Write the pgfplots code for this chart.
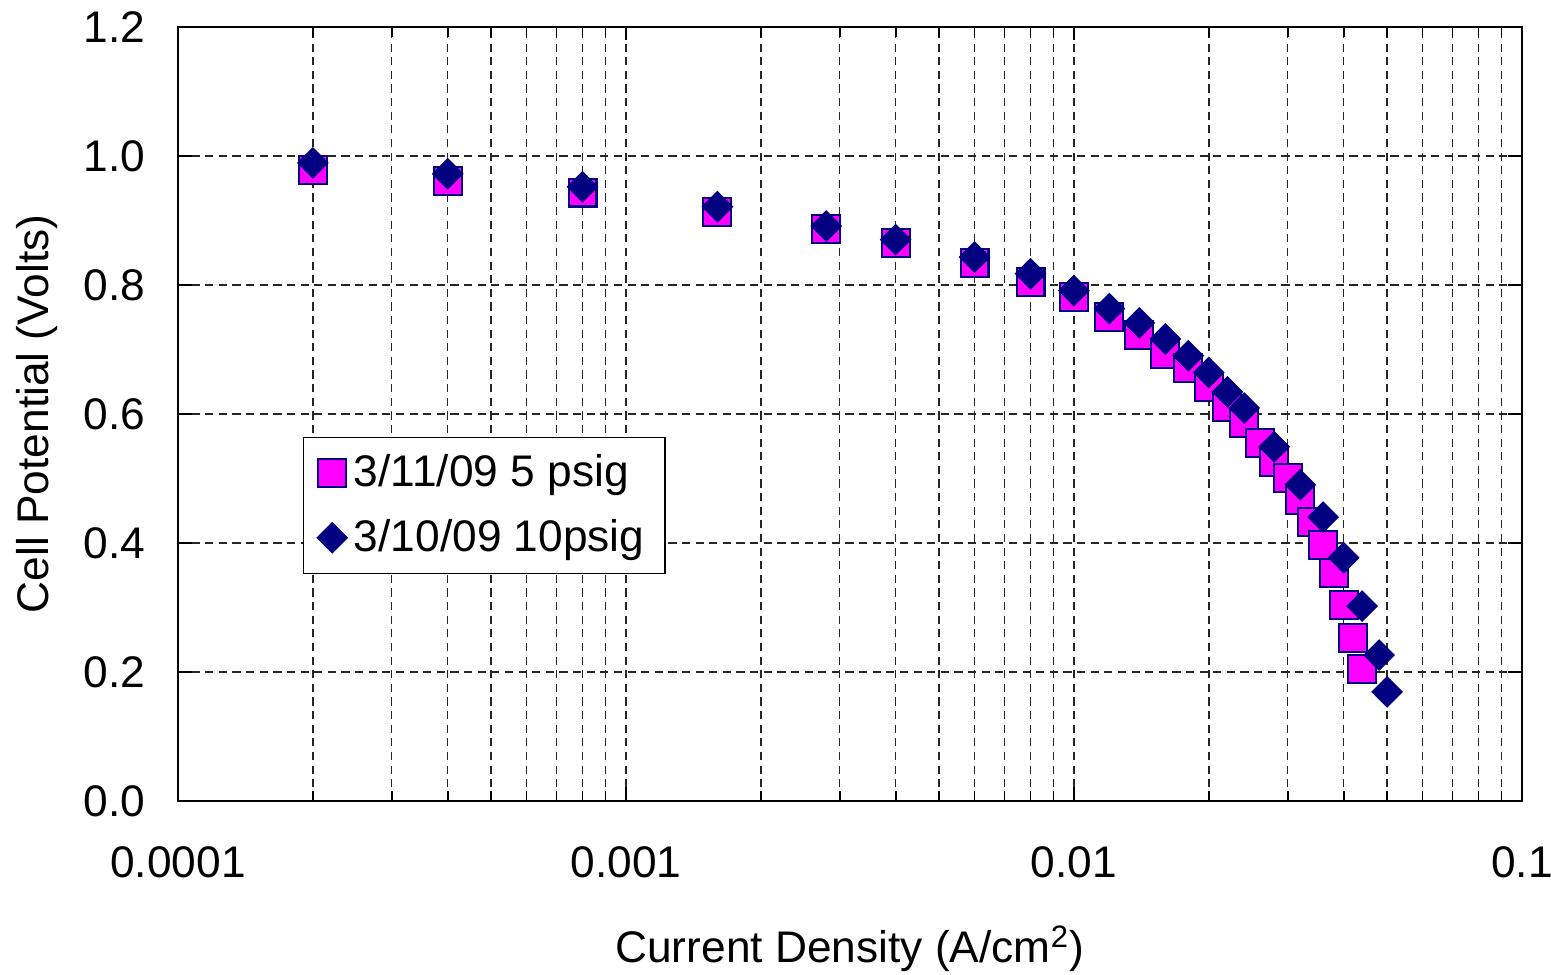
\documentclass[border=0pt]{standalone}
\usepackage{pgfplots}
\pgfplotsset{compat=1.18}
\usepackage{fontspec}
\setmainfont{Liberation Sans}
\definecolor{navyc}{RGB}{0,0,128}
\definecolor{magc}{RGB}{255,0,255}
\begin{document}
\begin{tikzpicture}
\begin{axis}[
  at={(0,0)}, anchor=south west,
  scale only axis,
  width=13.87cm, height=7.99cm,
  xmode=log,
  xmin=0.0001, xmax=0.1,
  ymin=0, ymax=1.2,
  ytick={0,0.2,0.4,0.6,0.8,1.0,1.2},
  xtick={0.0001,0.001,0.01,0.1},
  xticklabels={0.0001,0.001,0.01,0.1},
  yticklabel style={/pgf/number format/fixed,/pgf/number format/fixed zerofill,/pgf/number format/precision=1,/pgf/number format/assume math mode=true},
  tick label style={font=\fontsize{13}{15}\selectfont},
  label style={font=\fontsize{13}{15}\selectfont},
  xticklabel style={yshift=-10pt},
  yticklabel style={xshift=-6pt},
  xlabel={Current Density (A/cm\textsuperscript{2})},
  ylabel={Cell Potential (Volts)},
  xlabel style={yshift=-7pt},
  ylabel style={yshift=1pt},
  axis line style={line width=0.7pt},
  grid=both,
  major grid style={dash pattern=on 2.4pt off 1.6pt, black!85, line width=0.45pt},
  minor grid style={dash pattern=on 2.4pt off 1.6pt, black!85, line width=0.45pt},
  ymajorgrids=true, yminorgrids=false, xminorgrids=true,
  tick style={black, line width=0.5pt},
  minor tick length=3pt, major tick length=4pt,
  legend style={at={(0.093,0.470)}, anchor=north west, draw=black, line width=0.4pt,
     font=\fontsize{13}{15}\selectfont, inner xsep=4pt, inner ysep=3pt, row sep=4pt},
  legend cell align=left,
]
\addplot[only marks, mark=square*, mark size=4.1pt, mark options={fill=magc, draw=navyc, line width=0.6pt}]
coordinates {
(0.0002,0.978) (0.0004,0.961) (0.0008,0.943) (0.0016,0.913) (0.0028,0.887)
(0.004,0.865) (0.006,0.834) (0.008,0.805) (0.01,0.781) (0.012,0.750)
(0.014,0.722) (0.016,0.693) (0.018,0.671) (0.020,0.642) (0.022,0.611)
(0.024,0.586) (0.026,0.555) (0.028,0.526) (0.030,0.501) (0.032,0.467)
(0.034,0.433) (0.036,0.397) (0.038,0.353) (0.040,0.304) (0.042,0.253)
(0.044,0.205)
};
\addlegendentry{3/11/09 5 psig}
\addplot[only marks, mark=square*, mark size=3.1pt, mark options={rotate=45, fill=navyc, draw=navyc, line width=0.4pt}]
coordinates {
(0.0002,0.989) (0.0004,0.972) (0.0008,0.952) (0.0016,0.921) (0.0028,0.891)
(0.004,0.870) (0.006,0.843) (0.008,0.817) (0.01,0.791) (0.012,0.763)
(0.014,0.741) (0.016,0.716) (0.018,0.690) (0.020,0.664) (0.022,0.634)
(0.024,0.609) (0.028,0.549) (0.032,0.490) (0.036,0.440) (0.040,0.377)
(0.044,0.302) (0.048,0.226) (0.050,0.169)
};
\addlegendentry{3/10/09 10psig}
\end{axis}
\pgfresetboundingbox
\useasboundingbox (-1.837cm,-1.796cm) rectangle (14.17cm,8.266cm);
\end{tikzpicture}
\end{document}
